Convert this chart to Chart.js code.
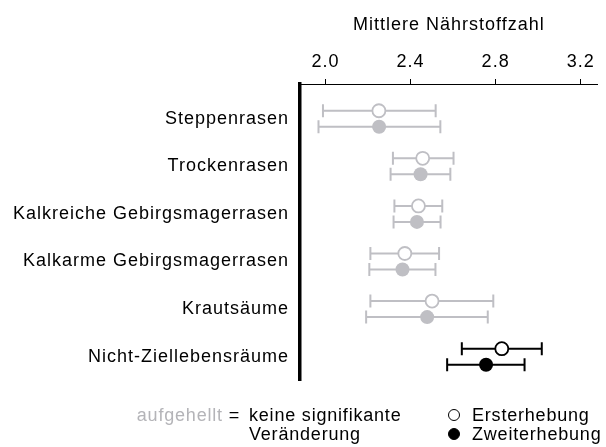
<!DOCTYPE html>
<html>
<head>
<meta charset="utf-8">
<script src="https://cdn.jsdelivr.net/npm/chart.js@4/dist/chart.umd.min.js"></script>
<style>
  html, body { margin:0; padding:0; background:#fff; }
  #wrap { position:relative; width:606px; height:447px; overflow:hidden; }
  canvas { position:absolute; left:0; top:0; }
  .lg { position:absolute; font-family:"Liberation Sans", Arial, sans-serif; font-size:18px; line-height:19px; color:#000; white-space:nowrap; letter-spacing:0.8px; }
  .gray { color:#b4b4b8; }
  .dot { display:inline-block; box-sizing:border-box; width:12px; height:12px; border-radius:50%; border:1.7px solid #000; margin-right:12px; vertical-align:0px; }
  .dot.f { background:#000; }
</style>
</head>
<body>
<div id="wrap">
  <canvas id="c" width="606" height="447"></canvas>
  <div class="lg" style="right:366px; top:406px;"><span class="gray">aufgehellt</span> =</div>
  <div class="lg" style="left:249px; top:406px;">keine signifikante<br>Veränderung</div>
  <div class="lg" style="left:448px; top:406px;"><span class="dot"></span>Ersterhebung<br><span class="dot f"></span>Zweiterhebung</div>
</div>
<script>
const categories = ["Steppenrasen", "Trockenrasen", "Kalkreiche Gebirgsmagerrasen", "Kalkarme Gebirgsmagerrasen", "Krautsäume", "Nicht-Ziellebensräume"];
const xTicks = [2.0, 2.4, 2.8, 3.2];
const erstMean = [2.251, 2.457, 2.437, 2.373, 2.501, 2.829];
const erstLo   = [1.988, 2.317, 2.324, 2.211, 2.211, 2.641];
const erstHi   = [2.518, 2.602, 2.549, 2.534, 2.789, 3.017];
const zweitMean = [2.252, 2.447, 2.430, 2.362, 2.478, 2.755];
const zweitLo   = [1.967, 2.306, 2.320, 2.206, 2.191, 2.572];
const zweitHi   = [2.540, 2.587, 2.541, 2.517, 2.763, 2.936];
const significant = [false, false, false, false, false, true];

const FONT = '"Liberation Sans", Arial, sans-serif';
const GRAY = '#bfbfc4';
const OFF = 0.168;
const colorOf = i => significant[i] ? '#000' : GRAY;

const spacing = {
  id: 'spacing',
  beforeUpdate(chart) { chart.ctx.letterSpacing = '1px'; },
  beforeLayout(chart) { chart.ctx.letterSpacing = '1px'; },
  beforeDraw(chart) { chart.ctx.letterSpacing = '1px'; }
};

const errorBars = {
  id: 'errorBars',
  beforeDatasetsDraw(chart) {
    const ctx = chart.ctx, xs = chart.scales.x, ys = chart.scales.y;
    const sets = [[erstLo, erstHi, -OFF], [zweitLo, zweitHi, OFF]];
    ctx.save();
    ctx.lineWidth = 2;
    sets.forEach(([lo, hi, off]) => {
      categories.forEach((c, i) => {
        const y = ys.getPixelForValue(i + off);
        const x1 = xs.getPixelForValue(lo[i]);
        const x2 = xs.getPixelForValue(hi[i]);
        ctx.strokeStyle = colorOf(i);
        ctx.beginPath();
        ctx.moveTo(x1, y); ctx.lineTo(x2, y);
        ctx.moveTo(x1, y - 6.5); ctx.lineTo(x1, y + 6.5);
        ctx.moveTo(x2, y - 6.5); ctx.lineTo(x2, y + 6.5);
        ctx.stroke();
      });
    });
    ctx.restore();
  }
};

new Chart(document.getElementById('c'), {
  type: 'scatter',
  data: {
    datasets: [
      {
        label: 'Ersterhebung',
        data: categories.map((c, i) => ({ x: erstMean[i], y: i - OFF })),
        pointRadius: 6.5,
        pointBorderWidth: 1.8,
        pointBackgroundColor: '#fff',
        pointBorderColor: categories.map((c, i) => colorOf(i))
      },
      {
        label: 'Zweiterhebung',
        data: categories.map((c, i) => ({ x: zweitMean[i], y: i + OFF })),
        pointRadius: 7,
        pointBorderWidth: 0,
        pointBackgroundColor: categories.map((c, i) => colorOf(i)),
        pointBorderColor: categories.map((c, i) => colorOf(i))
      }
    ]
  },
  options: {
    responsive: false,
    animation: false,
    layout: { padding: { top: 8, left: 0, right: 0, bottom: 67 } },
    plugins: { legend: { display: false }, tooltip: { enabled: false } },
    scales: {
      x: {
        type: 'linear', position: 'top', min: 1.88, max: 3.28,
        afterBuildTicks: s => { s.ticks = xTicks.map(v => ({ value: v })); },
        afterFit: s => { s.height = 76; },
        ticks: { callback: v => v.toFixed(1), color: '#000', font: { size: 18, family: FONT }, padding: 6, maxRotation: 0 },
        grid: { drawOnChartArea: false, drawTicks: true, tickLength: 5, color: '#000', lineWidth: 1 },
        border: { display: true, color: '#000', width: 1 },
        title: { display: true, text: 'Mittlere Nährstoffzahl', color: '#000', font: { size: 18, family: FONT }, padding: { top: 6, bottom: 6 } }
      },
      y: {
        type: 'linear', min: -0.73, max: 5.49, reverse: true,
        afterBuildTicks: s => { s.ticks = categories.map((c, i) => ({ value: i })); },
        afterFit: s => { s.width = 300; },
        ticks: { callback: v => categories[v], color: '#000', font: { size: 18, family: FONT }, padding: 11 },
        grid: { drawOnChartArea: false, drawTicks: false },
        border: { display: true, color: '#000', width: 3.5 }
      }
    }
  },
  plugins: [spacing, errorBars]
});
</script>
</body>
</html>
